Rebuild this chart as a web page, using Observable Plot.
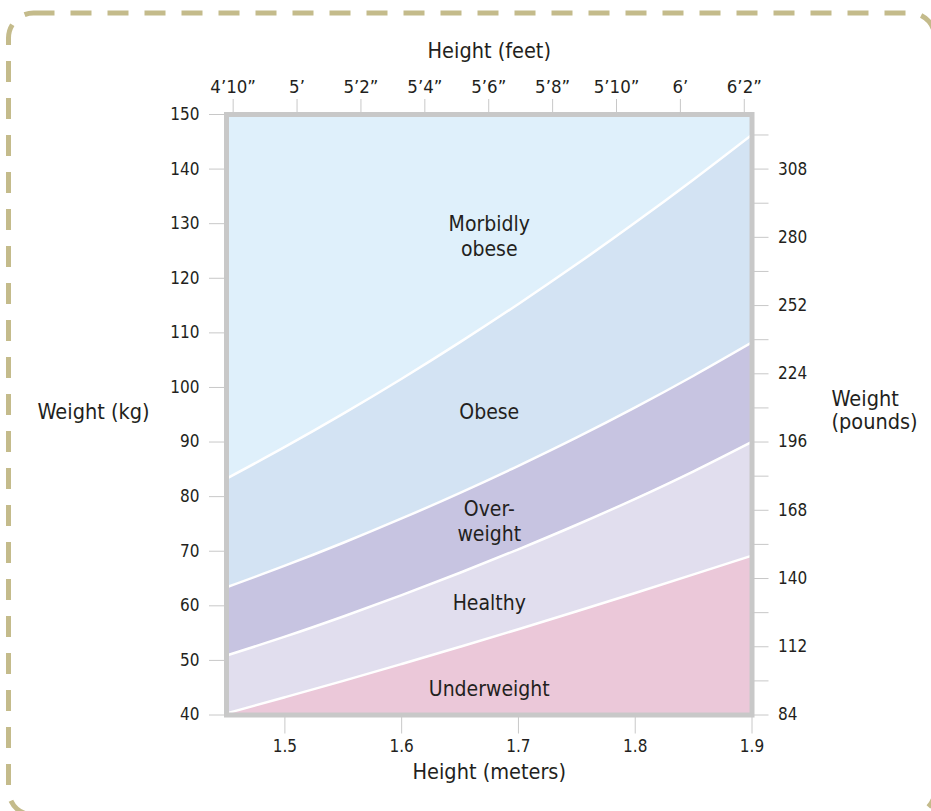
<!DOCTYPE html>
<html><head><meta charset="utf-8">
<script src="https://cdn.jsdelivr.net/npm/d3@7"></script>
<script src="https://cdn.jsdelivr.net/npm/@observablehq/plot@0.6"></script>
<style>
body{margin:0;background:#fff;}
#wrap{position:relative;width:931px;height:811px;overflow:hidden;background:#fff;}
#wrap svg{position:absolute;left:0;top:0;}
</style></head><body><div id="wrap"></div>
<script>
// ---- data ----
const heights        = [1.45, 1.50, 1.55, 1.60, 1.65, 1.70, 1.75, 1.80, 1.85, 1.90];
const underweightTop = [40.3, 43.25, 46.25, 49.35, 52.5, 55.7, 59.0, 62.35, 65.75, 69.2];
const healthyTop     = [50.9, 54.35, 58.05, 61.95, 66.05, 70.35, 74.85, 79.6, 84.65, 90.05];
const overweightTop  = [63.4, 67.35, 71.55, 76.0, 80.7, 85.65, 90.85, 96.35, 102.15, 108.25];
const obeseTop       = [83.3, 89.1, 95.2, 101.6, 108.3, 115.3, 122.6, 130.2, 138.1, 146.3];
const zoneNames = ["Underweight", "Healthy", "Over-\nweight", "Obese", "Morbidly\nobese"];

const meterTicks = [1.5, 1.6, 1.7, 1.8, 1.9];
const kgTicks = [40, 50, 60, 70, 80, 90, 100, 110, 120, 130, 140, 150];
const poundTicks = [84, 112, 140, 168, 196, 224, 252, 280, 308];
const poundMinorTicks = [98, 126, 154, 182, 210, 238, 266, 294, 322];
const feetTickInches = [58, 60, 62, 64, 66, 68, 70, 72, 74];
const feetTickLabels = ["4’10”", "5’", "5’2”", "5’4”", "5’6”", "5’8”", "5’10”", "6’", "6’2”"];
// secondary-axis calibration
const poundCalib = [84, 308], kgCalib = [40, 140];
const inchCalib = [58, 74], meterCalib = [1.4557, 1.8934];

// ---- build ----
const xDomain = [heights[0], heights[heights.length - 1]];
const yDomain = [kgTicks[0], kgTicks[kgTicks.length - 1]];
const lbToKg = d3.scaleLinear().domain(poundCalib).range(kgCalib);
const inToM = d3.scaleLinear().domain(inchCalib).range(meterCalib);

const rows = heights.map((h, i) => ({
  h, under: underweightTop[i], healthy: healthyTop[i], over: overweightTop[i], obese: obeseTop[i]
}));
const bounds = [yDomain[0], underweightTop, healthyTop, overweightTop, obeseTop, yDomain[1]];
const midH = (xDomain[0] + xDomain[1]) / 2;
const at = v => Array.isArray(v) ? d3.scaleLinear().domain(heights).range(v)(midH) : v;
const zoneLabels = zoneNames.map((name, i) => ({
  name, h: midH, kg: (at(bounds[i]) + at(bounds[i + 1])) / 2
}));
const labelDy = [11, 2, 0, 10, 17];

const colors = {
  morbid: "#dff0fb", obese: "#d3e3f3", over: "#c7c4e1", healthy: "#e1deee", under: "#ebc8d9"
};
const grey = "#c8c8c8", ink = "#231f20";
const font = "'DejaVu Sans Condensed', 'DejaVu Sans', sans-serif";
const curve = "monotone-x";

const chart = Plot.plot({
  width: 931, height: 811,
  marginLeft: 226, marginRight: 179.5, marginTop: 114, marginBottom: 96.5,
  x: {domain: xDomain, axis: null},
  y: {domain: yDomain, axis: null},
  style: {fontFamily: font, fontSize: "17px", color: ink, background: "transparent"},
  marks: [
    Plot.frame({fill: colors.morbid}),
    Plot.areaY(rows, {x: "h", y: "obese", fill: colors.obese, curve, clip: true}),
    Plot.areaY(rows, {x: "h", y: "over", fill: colors.over, curve, clip: true}),
    Plot.areaY(rows, {x: "h", y: "healthy", fill: colors.healthy, curve, clip: true}),
    Plot.areaY(rows, {x: "h", y: "under", fill: colors.under, curve, clip: true}),
    ...["obese", "over", "healthy", "under"].map(k =>
      Plot.line(rows, {x: "h", y: k, stroke: "white", strokeWidth: 2.5, curve, clip: true})),
    ...zoneLabels.map((d, i) =>
      Plot.text([d], {x: "h", y: "kg", text: "name", dy: labelDy[i], fontSize: 21, fill: ink, lineHeight: 1.2})),
    Plot.frame({stroke: grey, strokeWidth: 5}),
    // bottom axis (meters)
    Plot.axisX(meterTicks, {anchor: "bottom", tickSize: 19, tickPadding: 6, stroke: grey, fill: ink, tickFormat: ".1f", label: null, fontSize: 17}),
    // top axis (feet)
    Plot.axisX(feetTickInches.map(inToM), {anchor: "top", tickSize: 16, tickPadding: 6, stroke: grey, fill: ink,
      tickFormat: (d, i) => feetTickLabels[i], label: null, fontSize: 18.5}),
    // left axis (kg)
    Plot.axisY(kgTicks, {anchor: "left", tickSize: 17, tickPadding: 10, stroke: grey, fill: ink, label: null, fontSize: 17}),
    // right axis (pounds)
    Plot.axisY(poundMinorTicks.map(lbToKg), {anchor: "right", tickSize: 16, stroke: grey, tickFormat: () => "", label: null}),
    Plot.axisY(poundTicks.map(lbToKg), {anchor: "right", tickSize: 16, tickPadding: 10, stroke: grey, fill: ink,
      tickFormat: d => String(Math.round(lbToKg.invert(d))), label: null, fontSize: 17}),
    // titles
    Plot.text(["Height (feet)"], {text: d => d, frameAnchor: "top", dy: -72, fontSize: 21.5, fill: ink}),
    Plot.text(["Height (meters)"], {text: d => d, frameAnchor: "bottom", dy: 64, fontSize: 21.5, fill: ink}),
    Plot.text(["Weight (kg)"], {text: d => d, frameAnchor: "left", textAnchor: "start", dx: -189, dy: -3, fontSize: 21.5, fill: ink}),
    Plot.text(["Weight\n(pounds)"], {text: d => d, frameAnchor: "right", textAnchor: "start", dx: 79.5, dy: -5, fontSize: 21.5, fill: ink, lineHeight: 1.07})
  ]
});

const wrap = document.getElementById("wrap");
wrap.appendChild(chart);

// decorative dashed rounded border
const ns = "http://www.w3.org/2000/svg";
const deco = document.createElementNS(ns, "svg");
deco.setAttribute("width", 931); deco.setAttribute("height", 811);
const r = document.createElementNS(ns, "rect");
r.setAttribute("x", 8.5); r.setAttribute("y", 13);
r.setAttribute("width", 926.5); r.setAttribute("height", 802);
r.setAttribute("rx", 25);
r.setAttribute("fill", "none"); r.setAttribute("stroke", "#c4bb8b");
r.setAttribute("stroke-width", 5); r.setAttribute("stroke-dasharray", "21 16");
deco.appendChild(r);
wrap.appendChild(deco);
</script></body></html>
